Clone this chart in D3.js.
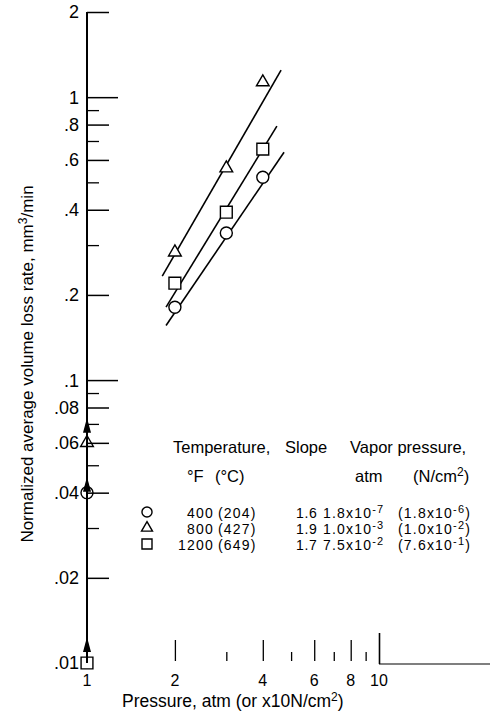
<!DOCTYPE html>
<html><head><meta charset="utf-8">
<script src="https://cdn.jsdelivr.net/npm/d3@7"></script>
<style>
body{margin:0;background:#fff}
svg{display:block}
text{font-family:"Liberation Sans",Arial,sans-serif;fill:#000}
</style>
</head><body>
<svg id="c" width="490" height="712"></svg>
<script>
// ---- data ----
const pressure = [2, 3, 4];
const rate400F = [0.181, 0.331, 0.521];
const rate800F = [0.283, 0.561, 1.13];
const rate1200F = [0.220, 0.392, 0.655];
const lowPressure = 1;
const lowRate400F = 0.04;
const lowRate800F = 0.06;
const lowRate1200F = 0.01;
const fit400F = [[1.865, 0.156], [4.73, 0.639]];
const fit800F = [[1.81, 0.233], [4.62, 1.246]];
const fit1200F = [[1.865, 0.181], [4.47, 0.790]];
const yDecadeTicks = [1, 0.1];
const yMajorTicks = [2, 0.8, 0.6, 0.4, 0.2, 0.08, 0.06, 0.04, 0.02];
const yMinorTicks = [0.9, 0.7, 0.5, 0.3, 0.09, 0.07, 0.05, 0.03];
const yTickLabels = [2, 1, 0.8, 0.6, 0.4, 0.2, 0.1, 0.08, 0.06, 0.04, 0.02, 0.01];
const xMajorTicks = [2, 4, 6, 8];
const xMinorTicks = [3, 5, 7, 9];
const xTickLabels = [1, 2, 4, 6, 8, 10];
const legendF = ["400", "800", "1200"];
const legendC = ["(204)", "(427)", "(649)"];
const legendSlope = ["1.6", "1.9", "1.7"];
const legendVpAtm = [["1.8x10", "-7"], ["1.0x10", "-3"], ["7.5x10", "-2"]];
const legendVpN = [["(1.8x10", "-6", ")"], ["(1.0x10", "-2", ")"], ["(7.6x10", "-1", ")"]];

// ---- scales ----
const x = d3.scaleLog().domain([1, 10]).range([87, 379]);
const y = d3.scaleLog().domain([0.01, 2]).range([663, 12]);
const svg = d3.select("#c");

// y axis line
svg.append("line").attr("x1", x(1)).attr("x2", x(1)).attr("y1", y(2)).attr("y2", y(0.01))
  .attr("stroke", "#000").attr("stroke-width", 2);

function yTicks(vals, len, sw) {
  const g = svg.append("g").attr("transform", `translate(${x(1)},0)`)
    .call(d3.axisRight(y).tickValues(vals).tickSize(len).tickFormat(""));
  g.select(".domain").remove();
  g.selectAll("line").attr("stroke", "#000").attr("stroke-width", sw);
}
yTicks(yDecadeTicks, 31, 1.5);
yTicks(yMajorTicks, 22, 1.5);
yTicks(yMinorTicks, 12, 1.3);

svg.append("g").selectAll("text").data(yTickLabels).join("text")
  .attr("x", 79).attr("y", d => y(d)).attr("dy", "0.36em")
  .attr("text-anchor", "end").attr("font-size", 18)
  .text(d => String(d).replace(/^0/, ""));

// x ticks
function xTicks(vals, len, yy, sw) {
  const g = svg.append("g").attr("transform", `translate(0,${yy})`)
    .call(d3.axisTop(x).tickValues(vals).tickSize(len).tickFormat(""));
  g.select(".domain").remove();
  g.selectAll("line").attr("stroke", "#000").attr("stroke-width", sw);
}
xTicks(xMajorTicks, 21, 661, 1.3);
xTicks(xMinorTicks, 9, 661, 1.3);
xTicks([10], 31, 664, 1.6);
svg.append("line").attr("x1", x(10)).attr("x2", 490).attr("y1", 664).attr("y2", 664)
  .attr("stroke", "#000").attr("stroke-width", 1.2);

svg.append("g").selectAll("text").data(xTickLabels).join("text")
  .attr("x", d => x(d)).attr("y", 686).attr("text-anchor", "middle").attr("font-size", 16)
  .text(d => d);

// axis titles
const xt = svg.append("text").attr("x", 122).attr("y", 707).attr("font-size", 17.5);
xt.append("tspan").text("Pressure, atm (or x10N/cm");
xt.append("tspan").attr("dy", -6).attr("font-size", 12).text("2");
xt.append("tspan").attr("dy", 6).text(")");

const yt = svg.append("text").attr("transform", "translate(33,364) rotate(-90)")
  .attr("text-anchor", "middle").attr("font-size", 17);
yt.append("tspan").text("Normalized average volume loss rate, mm");
yt.append("tspan").attr("dy", -6).attr("font-size", 12).text("3");
yt.append("tspan").attr("dy", 6).text("/min");

// fit lines
const line = d3.line().x(d => x(d[0])).y(d => y(d[1]));
[fit400F, fit800F, fit1200F].forEach(f => {
  svg.append("path").attr("d", line(f)).attr("fill", "none").attr("stroke", "#000").attr("stroke-width", 1.6);
});

// markers
const shapes = {
  circle: d3.symbol().type(d3.symbolCircle).size(113),
  triangle: d3.symbol().type(d3.symbolTriangle).size(70),
  square: d3.symbol().type(d3.symbolSquare).size(140)
};
const series = [
  {rates: rate400F, low: lowRate400F, shape: "circle", arrowOff: 16},
  {rates: rate800F, low: lowRate800F, shape: "triangle", arrowOff: 25},
  {rates: rate1200F, low: lowRate1200F, shape: "square", arrowOff: 26}
];
series.forEach(s => {
  svg.append("g").selectAll("path").data(pressure.map((p, i) => [p, s.rates[i]])).join("path")
    .attr("d", shapes[s.shape]())
    .attr("transform", d => `translate(${x(d[0])},${y(d[1])})`)
    .attr("fill", "#fff").attr("stroke", "#000").attr("stroke-width", 1.4);
  svg.append("path").attr("d", shapes[s.shape]())
    .attr("transform", `translate(${x(lowPressure)},${y(s.low)})`)
    .attr("fill", "none").attr("stroke", "#000").attr("stroke-width", 1.4);
  const tip = y(s.low) - s.arrowOff;
  svg.append("path").attr("d", `M${x(lowPressure)},${tip}l4,15h-8z`).attr("fill", "#000");
});

// legend
const fs = 16.5, rfs = 14, ls = 1.2;
const hdr = [["Temperature,", 173, 453], ["Slope", 285, 453], ["Vapor pressure,", 350, 453],
             ["°F", 187, 482], ["(°C)", 215, 482], ["atm", 355, 482]];
hdr.forEach(h => svg.append("text").attr("x", h[1]).attr("y", h[2]).attr("font-size", fs).text(h[0]));
const nc = svg.append("text").attr("x", 413).attr("y", 482).attr("font-size", fs);
nc.append("tspan").text("(N/cm");
nc.append("tspan").attr("dy", -6).attr("font-size", 12).text("2");
nc.append("tspan").attr("dy", 6).text(")");

const rowY = [518, 534, 550];
const legShapes = {
  circle: d3.symbol().type(d3.symbolCircle).size(80),
  triangle: d3.symbol().type(d3.symbolTriangle).size(52),
  square: d3.symbol().type(d3.symbolSquare).size(100)
};
series.forEach((s, i) => {
  svg.append("path").attr("d", legShapes[s.shape]())
    .attr("transform", `translate(147,${rowY[i] - 6})`)
    .attr("fill", "none").attr("stroke", "#000").attr("stroke-width", 1.4);
  svg.append("text").attr("x", 214).attr("y", rowY[i]).attr("text-anchor", "end").attr("font-size", rfs)
    .attr("letter-spacing", ls).text(legendF[i]);
  svg.append("text").attr("x", 218).attr("y", rowY[i]).attr("font-size", rfs).attr("letter-spacing", ls).text(legendC[i]);
  svg.append("text").attr("x", 296).attr("y", rowY[i]).attr("font-size", rfs).attr("letter-spacing", 0.6).text(legendSlope[i]);
  const a = svg.append("text").attr("x", 323).attr("y", rowY[i]).attr("font-size", rfs).attr("letter-spacing", ls);
  a.append("tspan").text(legendVpAtm[i][0]);
  a.append("tspan").attr("dy", -5).attr("font-size", 11).text(legendVpAtm[i][1]);
  const b = svg.append("text").attr("x", 398).attr("y", rowY[i]).attr("font-size", rfs).attr("letter-spacing", ls);
  b.append("tspan").text(legendVpN[i][0]);
  b.append("tspan").attr("dy", -5).attr("font-size", 11).text(legendVpN[i][1]);
  b.append("tspan").attr("dy", 5).text(legendVpN[i][2]);
});
</script>
</body></html>
